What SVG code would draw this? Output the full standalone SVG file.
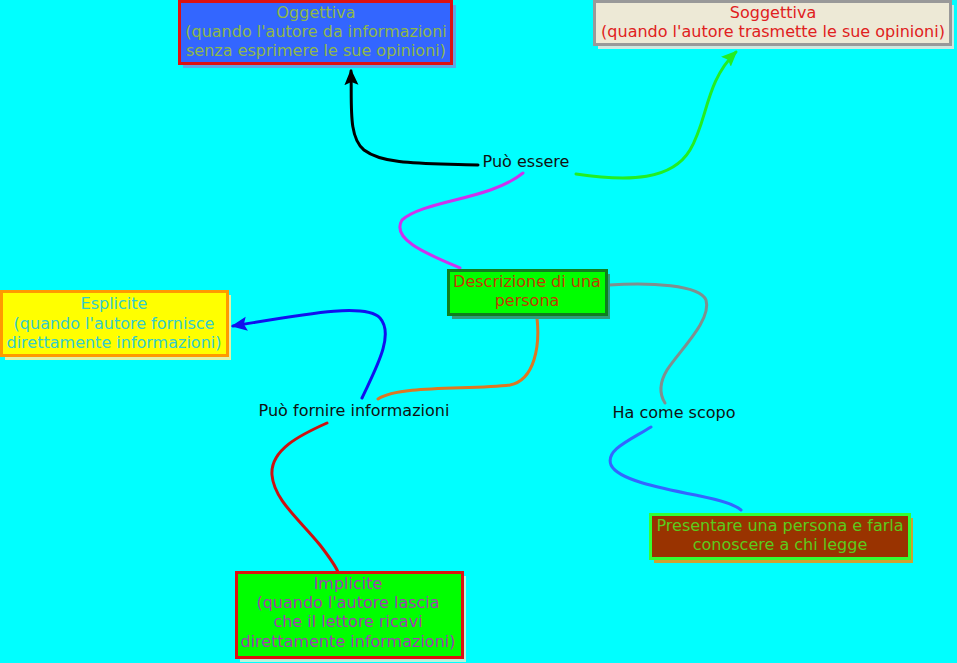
<svg xmlns="http://www.w3.org/2000/svg" width="957" height="663" viewBox="0 0 957 663">
<defs>
<style>
text{font-family:"DejaVu Sans",Verdana,sans-serif;font-size:16px;text-anchor:middle}
.lbl{fill:#111}
.c{fill:none;stroke-width:3;stroke-linecap:round}
</style>
<marker id="ak" markerWidth="16" markerHeight="16" refX="14" refY="8" orient="auto" markerUnits="userSpaceOnUse" viewBox="0 0 16 16"><path d="M0,1 L16,8 L0,15 L3,8 Z" fill="#000"/></marker>
<marker id="ag" markerWidth="16" markerHeight="16" refX="14" refY="8" orient="auto" markerUnits="userSpaceOnUse" viewBox="0 0 16 16"><path d="M0,1 L16,8 L0,15 L3,8 Z" fill="#22EE22"/></marker>
<marker id="ab" markerWidth="16" markerHeight="16" refX="14" refY="8" orient="auto" markerUnits="userSpaceOnUse" viewBox="0 0 16 16"><path d="M0,1 L16,8 L0,15 L3,8 Z" fill="#1111EE"/></marker>
</defs>
<rect width="957" height="663" fill="#00FFFF"/>
<g id="connectors">
<path class="c" stroke="#000" d="M478 165 C430 163 385 166 364 150 C348 137 352 105 351 71" marker-end="url(#ak)"/>
<path class="c" stroke="#22EE22" d="M576 174 C630 182 672 180 690 150 C708 120 705 82 736 52" marker-end="url(#ag)"/>
<path class="c" stroke="#CC33EE" d="M523 173 C490 200 425 200 402 220 C390 240 430 255 460 268"/>
<path class="c" stroke="#7F8F8F" d="M609 285 C650 282 700 285 706 300 C712 320 680 350 667 370 C658 385 660 395 665 403"/>
<path class="c" stroke="#1111EE" d="M362 398 C375 370 395 335 380 318 C365 302 300 315 233 326" marker-end="url(#ab)"/>
<path class="c" stroke="#DD7722" d="M378 399 C400 385 470 390 510 385 C535 380 540 345 537 318"/>
<path class="c" stroke="#CC1111" d="M327 423 C300 435 270 450 272 475 C274 500 300 520 320 545 C330 558 335 565 338 572"/>
<path class="c" stroke="#3366FF" d="M651 427 C630 440 605 450 611 465 C618 480 660 488 700 496 C720 500 735 505 741 510"/>
</g>
<g id="lbl-puo-essere"><text class="lbl" x="526" y="167">Può essere</text></g>
<g id="lbl-puo-fornire"><text class="lbl" x="354" y="416">Può fornire informazioni</text></g>
<g id="lbl-ha-come"><text class="lbl" x="674" y="418">Ha come scopo</text></g>
<g id="oggettiva">
<rect x="183" y="5" width="273" height="63" fill="#5DA6E6"/>
<rect x="179.5" y="1.5" width="272" height="62" fill="#3366FF" stroke="#DD1111" stroke-width="3"/>
<text fill="#8FB84A"><tspan x="316" y="18">Oggettiva</tspan><tspan x="316" y="37">(quando l'autore da informazioni</tspan><tspan x="316" y="56">senza esprimere le sue opinioni)</tspan></text>
</g>
<g id="soggettiva">
<rect x="598" y="5" width="356" height="44" fill="#CFE7E0"/>
<rect x="594.5" y="1.5" width="356" height="43" fill="#EDE9D6" stroke="#999" stroke-width="3"/>
<text fill="#E02020"><tspan x="773" y="18">Soggettiva</tspan><tspan x="773" y="37">(quando l'autore trasmette le sue opinioni)</tspan></text>
</g>
<g id="esplicite">
<rect x="5" y="295" width="226" height="65" fill="#E2F2A8"/>
<rect x="1.5" y="291.5" width="226" height="64" fill="#FFFF00" stroke="#FF9900" stroke-width="3"/>
<text fill="#33CCCC"><tspan x="114" y="309">Esplicite</tspan><tspan x="114" y="329">(quando l'autore fornisce</tspan><tspan x="114" y="348">direttamente informazioni)</tspan></text>
</g>
<g id="descrizione">
<rect x="452" y="274" width="158" height="45" fill="#2E9E7E"/>
<rect x="448.5" y="270.5" width="158" height="44" fill="#00FF00" stroke="#0F7F1F" stroke-width="3"/>
<text fill="#C03A00"><tspan x="527" y="287">Descrizione di una</tspan><tspan x="527" y="306">persona</tspan></text>
</g>
<g id="presentare">
<rect x="654" y="518" width="259" height="45" fill="#CCA333"/>
<rect x="650.5" y="514.5" width="259" height="44" fill="#993300" stroke="#33FF33" stroke-width="3"/>
<text fill="#5CCB1C"><tspan x="780" y="531">Presentare una persona e farla</tspan><tspan x="780" y="550">conoscere a chi legge</tspan></text>
</g>
<g id="implicite">
<rect x="240" y="576" width="226" height="86" fill="#B8F4DC"/>
<rect x="236.5" y="572.5" width="226" height="85" fill="#00FF00" stroke="#DD1111" stroke-width="3"/>
<text fill="#A040B0"><tspan x="348" y="589">Implicite</tspan><tspan x="348" y="608">(quando l'autore lascia</tspan><tspan x="348" y="627">che il lettore ricavi</tspan><tspan x="348" y="647">direttamente informazioni)</tspan></text>
</g>
</svg>
